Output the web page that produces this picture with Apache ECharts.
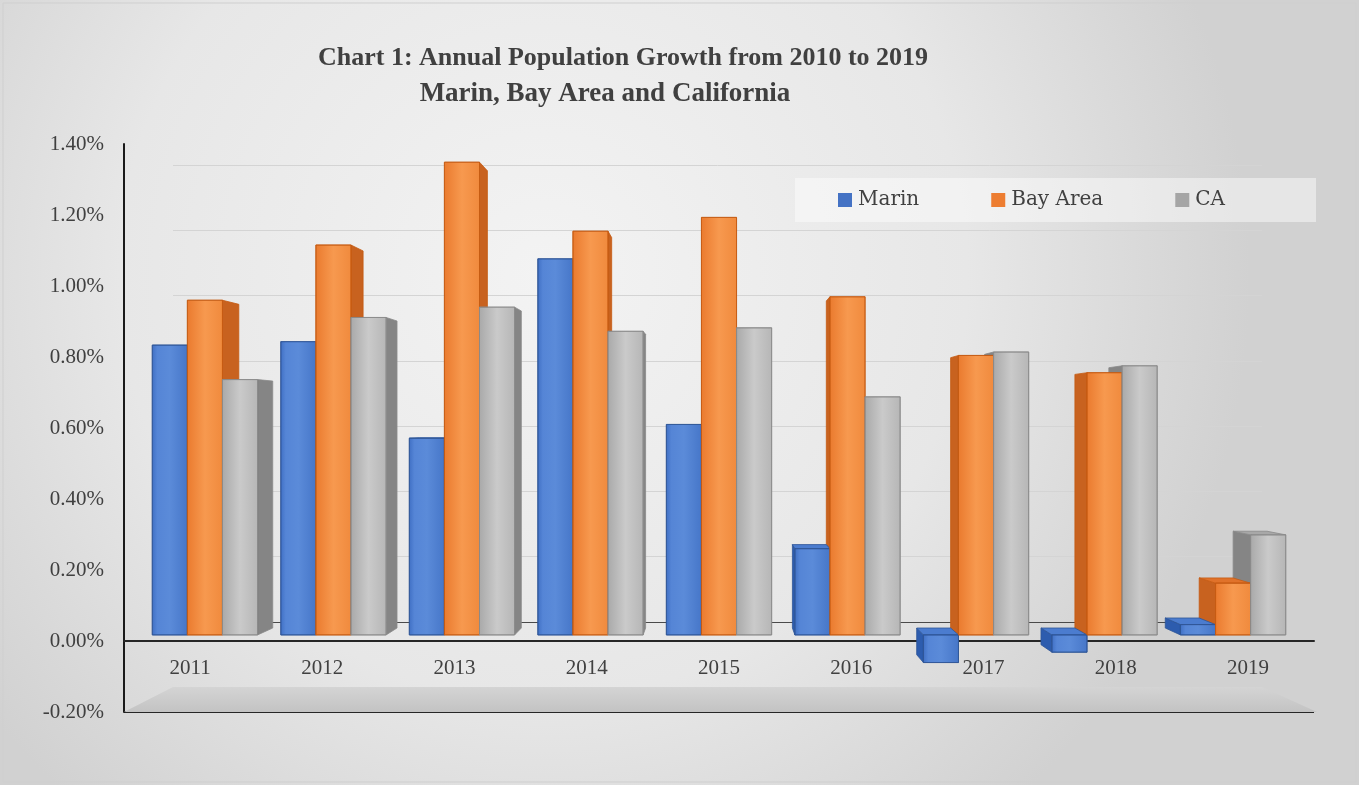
<!DOCTYPE html>
<html><head><meta charset="utf-8">
<script src="https://cdn.jsdelivr.net/npm/echarts@6/dist/echarts.min.js"></script>
<style>html,body{margin:0;padding:0;background:#fff;}#c{width:1359px;height:785px;}</style>
</head><body><div id="c"></div>
<script>
// ---- data (percent) ----
const categories = ['2011','2012','2013','2014','2015','2016','2017','2018','2019'];
const marin   = [0.84, 0.85, 0.57, 1.09, 0.61, 0.25, -0.08, -0.05, 0.03];
const bayArea = [0.97, 1.13, 1.37, 1.17, 1.21, 0.98, 0.81, 0.76, 0.15];
const ca      = [0.74, 0.92, 0.95, 0.88, 0.89, 0.69, 0.82, 0.78, 0.29];
const seriesNames = ['Marin', 'Bay Area', 'CA'];
const yMin = -0.2, yMax = 1.4, yStep = 0.2;

// ---- layout / style ----
const H = 785, W = 1359;
const GRID = {left: 124, right: 45, top: 144, bottom: 73};
const BACK = {left: 173, right: 97, top: 165, bottom: 98};
const F0 = 0.028, F1 = 0.06, BAR_FRAC = 0.273, HORIZON = 0.61;
const FONT = 'Liberation Serif';
const TXT = '#404040';
const looks = [
  {base:'#4472C4', stroke:'#2f5597', side:'#2d5cae', top:'#4b7ccf',
   stops:[[0,'#3f6fc4'],[0.15,'#5585d6'],[0.5,'#5b8bd9'],[1,'#4676c8']]},
  {base:'#ED7D31', stroke:'#c55a11', side:'#c8621f', top:'#e0722a',
   stops:[[0,'#ea7a2e'],[0.5,'#f7994f'],[1,'#f08a3d']]},
  {base:'#A5A5A5', stroke:'#8a8a8a', side:'#858585', top:'#a8a8a8',
   stops:[[0,'#a9a9a9'],[0.5,'#cacaca'],[1,'#b6b6b6']]}
];

function makeRender(si) {
  const lk = looks[si];
  return function (params, api) {
    const ci = api.value(0), v = api.value(1);
    const c0 = api.coord([ci, 0]);
    const c1 = api.coord([ci, v]);
    const band = api.size([1, 0])[0];
    const vp = api.coord([(categories.length - 1) / 2, HORIZON]);
    const w = band * BAR_FRAC;
    const x0 = c0[0] + (si - 1.5) * w, x1 = x0 + w;
    const yt = Math.min(c0[1], c1[1]), yb = Math.max(c0[1], c1[1]);
    const P = (x, y, f) => [x + f * (vp[0] - x), y + f * (vp[1] - y)];
    const children = [];
    if (x1 < vp[0]) {
      children.push({type:'polygon', z2:1, shape:{points:[P(x1,yt,F0),P(x1,yt,F1),P(x1,yb,F1),P(x1,yb,F0)]},
        style:{fill:lk.side, stroke:lk.stroke, lineWidth:0.8}});
    } else if (x0 > vp[0]) {
      children.push({type:'polygon', z2:1, shape:{points:[P(x0,yt,F0),P(x0,yt,F1),P(x0,yb,F1),P(x0,yb,F0)]},
        style:{fill:lk.side, stroke:lk.stroke, lineWidth:0.8}});
    }
    if (yt > vp[1]) {
      children.push({type:'polygon', z2:2, shape:{points:[P(x0,yt,F0),P(x1,yt,F0),P(x1,yt,F1),P(x0,yt,F1)]},
        style:{fill:lk.top, stroke:lk.stroke, lineWidth:0.8}});
    }
    children.push({type:'polygon', z2:3, shape:{points:[P(x0,yt,F0),P(x1,yt,F0),P(x1,yb,F0),P(x0,yb,F0)]},
      style:{fill:{type:'linear',x:0,y:0,x2:1,y2:0,colorStops:lk.stops.map(s=>({offset:s[0],color:s[1]}))},
             stroke:lk.stroke, lineWidth:0.8}});
    return {type:'group', children};
  };
}

const dataSets = [marin, bayArea, ca];
const series = dataSets.map((arr, si) => ({
  type:'custom', name: seriesNames[si], xAxisIndex:0, yAxisIndex:0,
  itemStyle:{color: looks[si].base, borderColor: looks[si].stroke},
  renderItem: makeRender(si),
  encode:{x:0, y:1},
  data: arr.map((v, i) => [i, v])
}));

const chart = echarts.init(document.getElementById('c'));
const backColors = [], frontColors = [];
for (let v = yMin; v <= yMax + 1e-9; v += yStep) {
  backColors.push(Math.abs(v) < 1e-9 ? '#4a4a4a' : '#d4d4d4');
  frontColors.push(Math.abs(v - yMin) < 1e-9 ? '#262626' : 'rgba(0,0,0,0)');
}
// category axis sits on the zero value: shift it up from the grid bottom
const plotH = H - GRID.top - GRID.bottom;
const zeroOffset = -(0 - yMin) / (yMax - yMin) * plotH;

chart.setOption({
  backgroundColor: {type:'radial', x:0.4, y:0.35, r:0.9,
    colorStops:[{offset:0,color:'#f3f3f3'},{offset:0.6,color:'#e7e7e7'},{offset:1,color:'#d1d1d1'}]},
  animation:false,
  title:[
    {text:'Chart 1: Annual Population Growth from 2010 to 2019', left:618, top:40, textAlign:'center',
     textStyle:{fontFamily:FONT, fontWeight:'bold', fontSize:26, color:TXT}},
    {text:'Marin, Bay Area and California', left:600, top:76, textAlign:'center',
     textStyle:{fontFamily:FONT, fontWeight:'bold', fontSize:27, color:TXT}}
  ],
  legend:{
    data: seriesNames, left:795, top:178, icon:'rect', itemWidth:14, itemHeight:14, itemGap:72,
    padding:[12, 91, 12, 43], backgroundColor:'rgba(255,255,255,0.45)', selectedMode:false,
    textStyle:{fontFamily:'DejaVu Serif', fontSize:20, color:TXT, padding:[0,0,0,1]}
  },
  grid:[
    Object.assign({containLabel:false}, GRID),
    Object.assign({containLabel:false}, BACK)
  ],
  xAxis:[
    {type:'category', gridIndex:0, data:categories, boundaryGap:true, position:'bottom', offset: zeroOffset,
     axisLine:{onZero:false, lineStyle:{color:'#262626', width:2}},
     axisTick:{show:false}, splitLine:{show:false},
     axisLabel:{fontFamily:FONT, fontSize:21, color:TXT, margin:17}},
    {type:'value', gridIndex:1, show:false}
  ],
  yAxis:[
    {type:'value', gridIndex:0, min:yMin, max:yMax, interval:yStep,
     axisLine:{show:true, lineStyle:{color:'#1a1a1a', width:2}}, axisTick:{show:false},
     splitLine:{show:true, lineStyle:{color:frontColors, width:2}},
     axisLabel:{fontFamily:FONT, fontSize:21, color:TXT, margin:20, formatter: v => v.toFixed(2) + '%'}},
    {type:'value', gridIndex:1, min:yMin, max:yMax, interval:yStep,
     axisLine:{show:false}, axisTick:{show:false}, axisLabel:{show:false},
     splitLine:{show:true, lineStyle:{color:backColors, width:1}}}
  ],
  series: series
});

const yFront = chart.convertToPixel({yAxisIndex:0}, yMin);
const yBack = chart.convertToPixel({yAxisIndex:1}, yMin);
chart.setOption({
  graphic:[
    {type:'polygon', z:1, silent:true,
     shape:{points:[[GRID.left, yFront],[BACK.left, yBack],[W-BACK.right, yBack],[W-GRID.right+3, yFront]]},
     style:{fill:{type:'linear',x:0,y:0,x2:0,y2:1,colorStops:[{offset:0,color:'#d4d4d4'},{offset:1,color:'#c3c3c3'}]}}},
    {type:'rect', z:0, silent:true, shape:{x:3, y:3, width:W-6, height:H-6},
     style:{fill:null, stroke:'#cfcfcf', lineWidth:1}}
  ]
});
</script></body></html>
